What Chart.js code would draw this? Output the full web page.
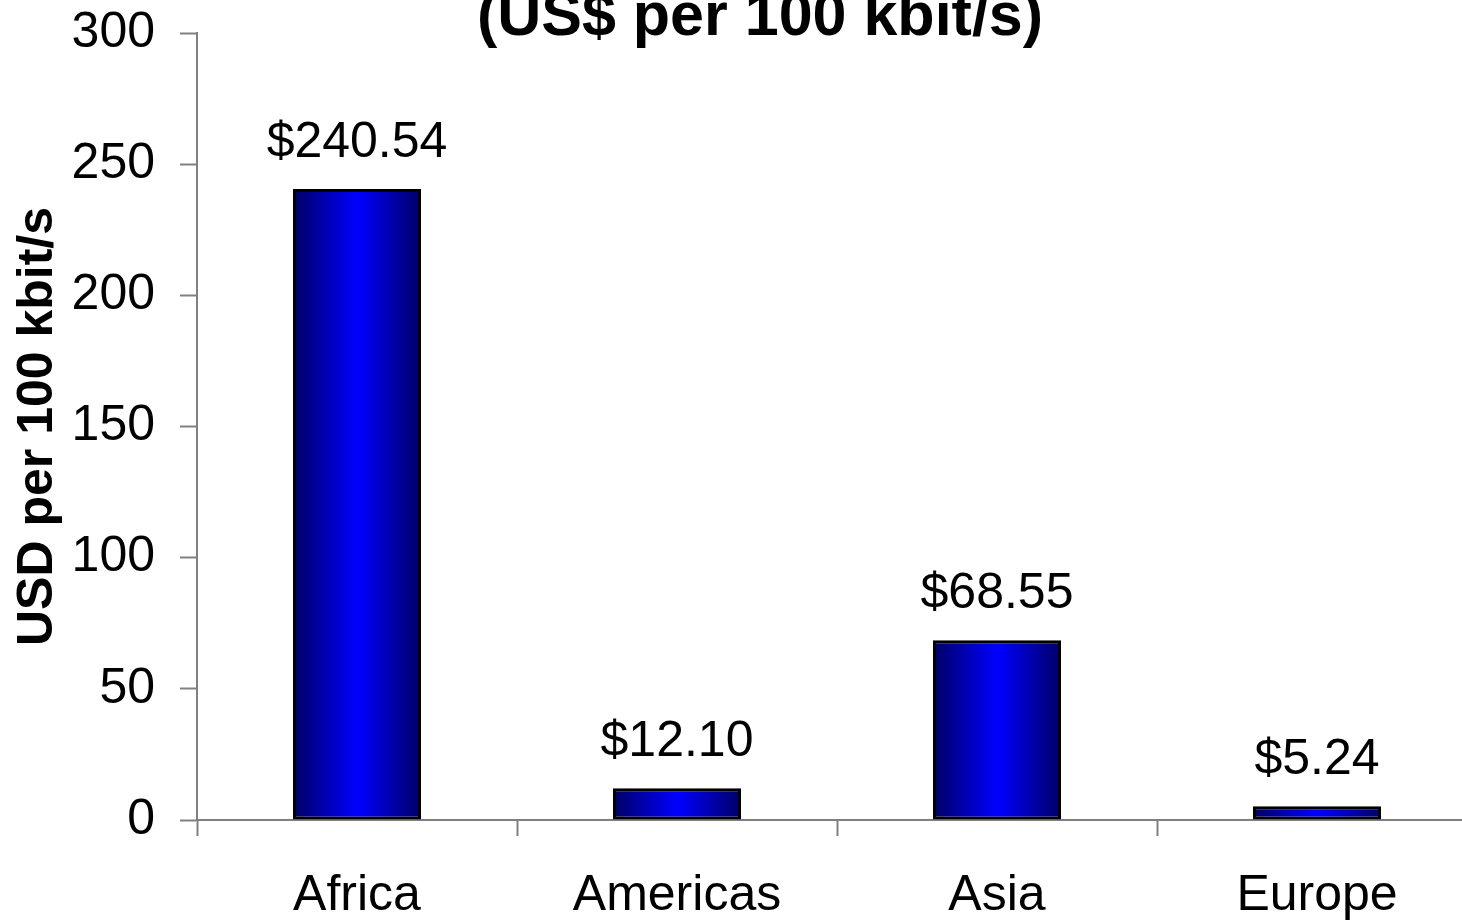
<!DOCTYPE html>
<html>
<head>
<meta charset="utf-8">
<title>USD per 100 kbit/s by region</title>
<script src="https://cdn.jsdelivr.net/npm/chart.js@4"></script>
<style>
    html, body { margin: 0; padding: 0; background: #ffffff; overflow: hidden; }
    #chart { display: block; }
</style>
</head>
<body>
<canvas id="chart" width="1500" height="920"></canvas>
<script>
const regions = ["Africa", "Americas", "Asia", "Europe"];
const pricePer100k = [240.54, 12.10, 68.55, 5.24];
const yTicks = [0, 50, 100, 150, 200, 250, 300];

const chartTitle = "(US$ per 100 kbit/s)";
const yTitle = "USD per 100 kbit/s";
const fontFamily = "'Liberation Sans', Arial, sans-serif";
const axisGray = "#808080";

// horizontal shading on each bar: dark navy edges, bright blue middle
const barFill = (ctx) => {
    const chart = ctx.chart;
    const x = chart.scales.x;
    if (!chart.chartArea || !x) return "#0000ff";
    const centre = x.getPixelForValue(ctx.dataIndex);
    const half = (x.width / regions.length) * 0.4 / 2;
    const g = chart.ctx.createLinearGradient(centre - half, 0, centre + half, 0);
    g.addColorStop(0, "#000066");
    g.addColorStop(0.5, "#0000ff");
    g.addColorStop(1, "#000066");
    return g;
};

const valueLabels = {
    id: "valueLabels",
    afterDatasetsDraw(chart) {
        const { ctx } = chart;
        const meta = chart.getDatasetMeta(0);
        ctx.save();
        ctx.fillStyle = "#000000";
        ctx.font = `50px ${fontFamily}`;
        ctx.textAlign = "center";
        ctx.textBaseline = "middle";
        meta.data.forEach((bar, i) => {
            ctx.fillText("$" + pricePer100k[i].toFixed(2), bar.x, bar.y - 46);
        });
        ctx.restore();
    }
};

const topTitle = {
    id: "topTitle",
    afterDraw(chart) {
        const { ctx } = chart;
        ctx.save();
        ctx.fillStyle = "#000000";
        ctx.font = `bold 61px ${fontFamily}`;
        ctx.textAlign = "center";
        ctx.textBaseline = "alphabetic";
        ctx.fillText(chartTitle, 760, 35);
        ctx.restore();
    }
};

new Chart(document.getElementById("chart"), {
    type: "bar",
    data: {
        labels: regions,
        datasets: [{
            data: pricePer100k,
            backgroundColor: barFill,
            borderColor: "#000000",
            borderWidth: 3,
            borderSkipped: false,
            barPercentage: 0.4,
            categoryPercentage: 1
        }]
    },
    options: {
        responsive: false,
        animation: false,
        devicePixelRatio: 1,
        layout: { padding: { top: 33, right: 23, bottom: 0, left: 0 } },
        plugins: {
            legend: { display: false },
            tooltip: { enabled: false }
        },
        scales: {
            x: {
                afterFit: (s) => { s.height = 100; },
                border: { display: true, color: axisGray, width: 2 },
                grid: {
                    offset: true,
                    drawOnChartArea: false,
                    drawTicks: true,
                    tickLength: 16,
                    tickColor: axisGray,
                    tickWidth: 2
                },
                ticks: {
                    color: "#000000",
                    padding: 30,
                    maxRotation: 0,
                    font: { family: fontFamily, size: 50 }
                }
            },
            y: {
                min: 0,
                max: 300,
                afterFit: (s) => {
                    s.width = 197;
                    s.paddingTop = 0;
                    s.paddingBottom = 0;
                },
                afterBuildTicks: (s) => { s.ticks = yTicks.map(v => ({ value: v })); },
                border: { display: true, color: axisGray, width: 2 },
                grid: {
                    drawOnChartArea: false,
                    drawTicks: true,
                    tickLength: 17,
                    tickColor: axisGray,
                    tickWidth: 2
                },
                ticks: {
                    color: "#000000",
                    padding: 25,
                    font: { family: fontFamily, size: 50 }
                },
                title: {
                    display: true,
                    text: yTitle,
                    color: "#000000",
                    padding: { top: 8, bottom: 0 },
                    font: { family: fontFamily, size: 50, weight: "bold" }
                }
            }
        }
    },
    plugins: [valueLabels, topTitle]
});
</script>
</body>
</html>
